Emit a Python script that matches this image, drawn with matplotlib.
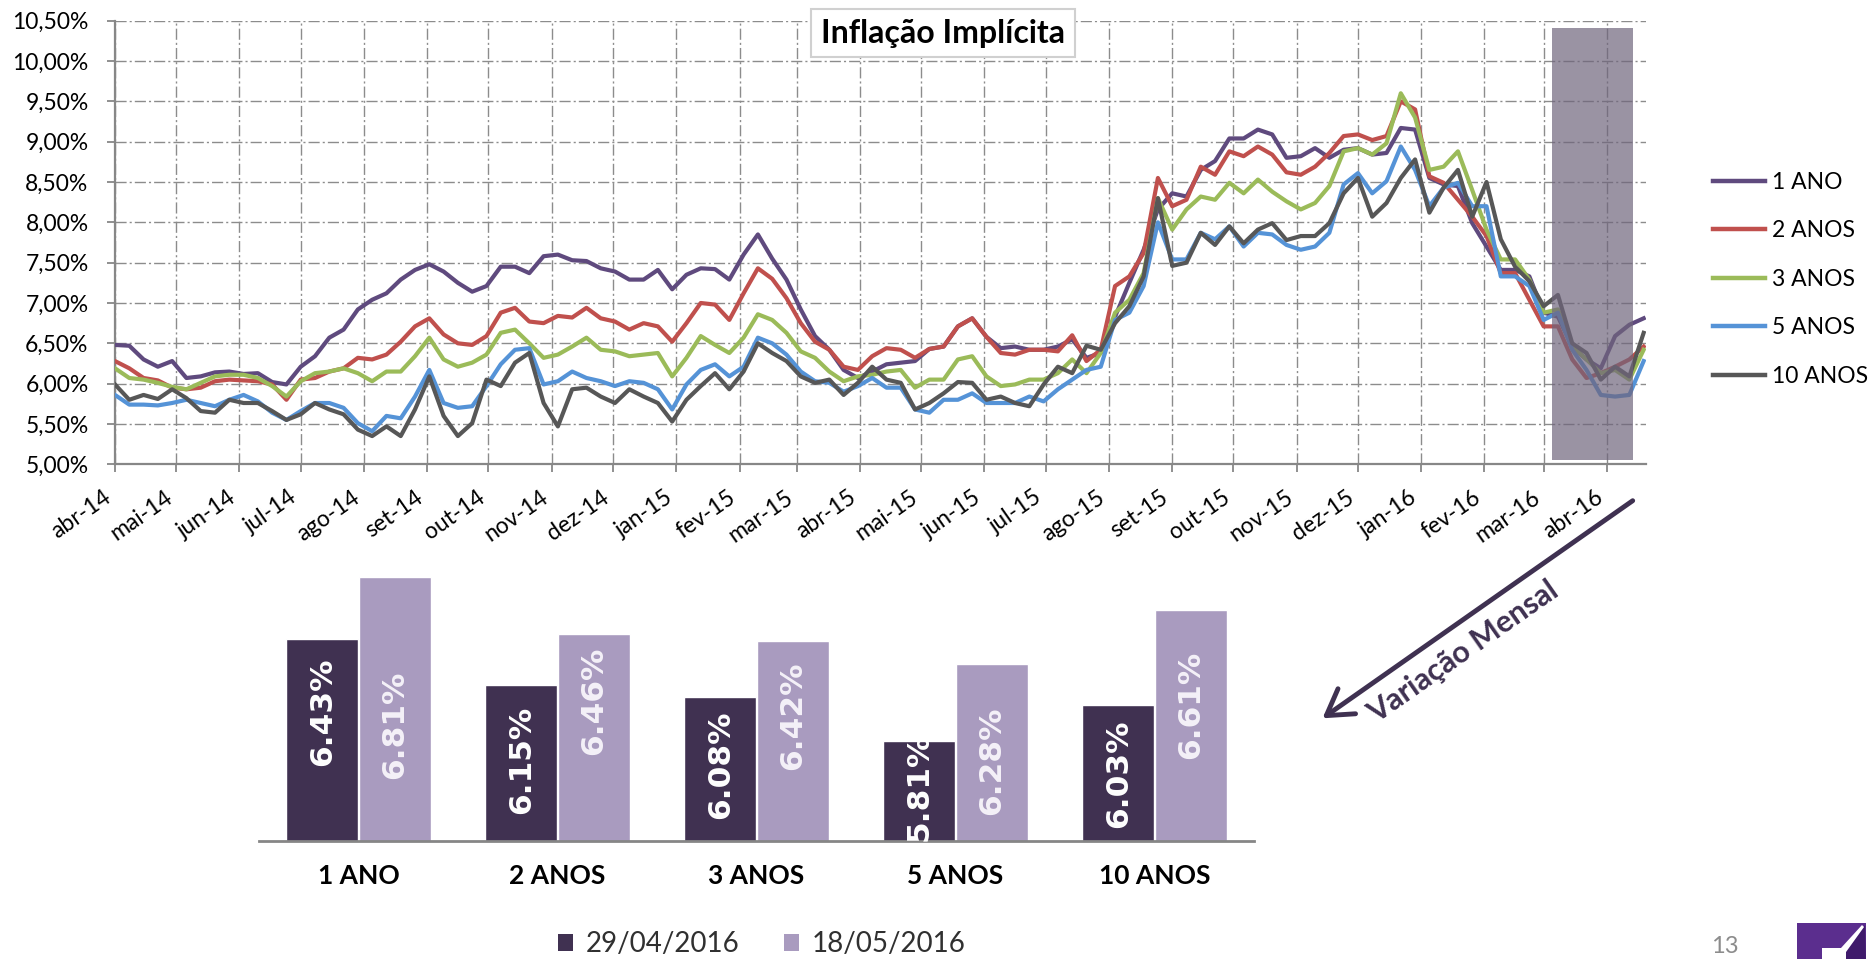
"""
Inflação Implícita - curvas por prazo e comparação mensal em barras
"""
import numpy as np
import pandas as pd
import matplotlib
matplotlib.use('Agg')
import matplotlib.pyplot as plt
import matplotlib.dates as mdates
from matplotlib.patches import Rectangle, Patch, Polygon, FancyArrowPatch
from matplotlib.lines import Line2D

plt.rcParams['font.family'] = ['Lato', 'DejaVu Sans']

# ---- dados das curvas (amostra semanal a partir de abr-14) ----
datas = pd.date_range('2014-04-01', periods=108, freq='7D')

ano_1 = [6.48, 6.47, 6.30, 6.21, 6.28, 6.07, 6.09, 6.14, 6.15, 6.12, 6.13, 6.02, 5.99, 6.21,
         6.34, 6.57, 6.67, 6.92, 7.04, 7.12, 7.29, 7.41, 7.48, 7.39, 7.25, 7.14, 7.21, 7.45,
         7.45, 7.37, 7.58, 7.60, 7.53, 7.52, 7.43, 7.39, 7.29, 7.29, 7.41, 7.17, 7.35, 7.43,
         7.42, 7.29, 7.60, 7.85, 7.55, 7.29, 6.92, 6.59, 6.42, 6.17, 6.07, 6.15, 6.24,
         6.26, 6.28, 6.43, 6.46, 6.71, 6.81, 6.58, 6.44, 6.46, 6.42, 6.42, 6.46, 6.55, 6.32,
         6.38, 6.83, 7.25, 7.66, 8.16, 8.36, 8.32, 8.65, 8.76, 9.04, 9.04, 9.15, 9.09, 8.80,
         8.82, 8.92, 8.80, 8.90, 8.92, 8.84, 8.86, 9.17, 9.15, 8.55, 8.47, 8.45, 7.99, 7.70,
         7.41, 7.41, 7.33, 6.88, 6.83, 6.46, 6.30, 6.19, 6.59, 6.73, 6.81]
anos_2 = [6.28, 6.19, 6.07, 6.04, 5.95, 5.93, 5.95, 6.03, 6.05, 6.04, 6.03, 5.99, 5.80, 6.05,
          6.07, 6.15, 6.19, 6.32, 6.30, 6.36, 6.52, 6.71, 6.81, 6.61, 6.50, 6.48, 6.59, 6.88,
          6.94, 6.77, 6.75, 6.84, 6.82, 6.94, 6.81, 6.77, 6.67, 6.75, 6.71, 6.52, 6.75, 7.00,
          6.98, 6.79, 7.12, 7.43, 7.30, 7.06, 6.75, 6.52, 6.42, 6.21, 6.17, 6.34, 6.44,
          6.42, 6.32, 6.43, 6.46, 6.71, 6.81, 6.58, 6.38, 6.36, 6.42, 6.42, 6.40, 6.60, 6.28,
          6.42, 7.21, 7.33, 7.62, 8.55, 8.20, 8.28, 8.69, 8.59, 8.88, 8.82, 8.94, 8.84, 8.62,
          8.59, 8.69, 8.86, 9.07, 9.09, 9.02, 9.07, 9.50, 9.40, 8.57, 8.49, 8.28, 8.07, 7.83,
          7.37, 7.37, 7.04, 6.71, 6.71, 6.30, 6.07, 6.13, 6.21, 6.30, 6.46]
anos_3 = [6.19, 6.07, 6.05, 6.01, 5.96, 5.93, 6.01, 6.09, 6.11, 6.11, 6.07, 5.97, 5.84, 6.03,
          6.13, 6.15, 6.19, 6.13, 6.03, 6.15, 6.15, 6.34, 6.57, 6.30, 6.21, 6.26, 6.36, 6.63,
          6.67, 6.50, 6.32, 6.36, 6.46, 6.57, 6.42, 6.40, 6.34, 6.36, 6.38, 6.09, 6.32, 6.59,
          6.48, 6.38, 6.57, 6.86, 6.79, 6.63, 6.40, 6.32, 6.15, 6.03, 6.09, 6.11, 6.15,
          6.17, 5.95, 6.05, 6.05, 6.30, 6.34, 6.09, 5.97, 5.99, 6.05, 6.05, 6.13, 6.30, 6.13,
          6.38, 6.88, 7.04, 7.37, 8.30, 7.91, 8.16, 8.32, 8.28, 8.49, 8.36, 8.53, 8.38, 8.26,
          8.16, 8.24, 8.45, 8.88, 8.92, 8.84, 8.98, 9.60, 9.30, 8.65, 8.69, 8.88, 8.40, 7.91,
          7.54, 7.54, 7.29, 6.88, 6.92, 6.46, 6.30, 6.13, 6.17, 6.05, 6.42]
anos_5 = [5.86, 5.74, 5.74, 5.73, 5.76, 5.80, 5.76, 5.72, 5.80, 5.86, 5.78, 5.64, 5.55, 5.66,
          5.76, 5.76, 5.70, 5.51, 5.41, 5.60, 5.57, 5.84, 6.17, 5.76, 5.70, 5.72, 5.97, 6.24,
          6.42, 6.44, 5.99, 6.03, 6.15, 6.07, 6.03, 5.97, 6.03, 6.01, 5.93, 5.68, 5.99, 6.17,
          6.24, 6.09, 6.21, 6.57, 6.50, 6.36, 6.15, 6.03, 6.01, 5.90, 5.97, 6.07, 5.95,
          5.95, 5.68, 5.64, 5.80, 5.80, 5.88, 5.76, 5.76, 5.76, 5.84, 5.78, 5.93, 6.05, 6.17,
          6.21, 6.79, 6.88, 7.21, 8.00, 7.54, 7.54, 7.87, 7.79, 7.95, 7.70, 7.87, 7.85, 7.72,
          7.66, 7.70, 7.87, 8.47, 8.61, 8.36, 8.51, 8.94, 8.65, 8.20, 8.43, 8.49, 8.20, 8.20,
          7.33, 7.33, 7.21, 6.79, 6.88, 6.42, 6.17, 5.86, 5.84, 5.86, 6.28]
anos_10 = [5.99, 5.80, 5.86, 5.81, 5.93, 5.82, 5.66, 5.64, 5.80, 5.76, 5.76, 5.66, 5.55, 5.62,
           5.76, 5.68, 5.62, 5.43, 5.35, 5.47, 5.35, 5.68, 6.09, 5.60, 5.35, 5.51, 6.05, 5.97,
           6.26, 6.38, 5.76, 5.47, 5.93, 5.95, 5.84, 5.76, 5.93, 5.84, 5.76, 5.53, 5.80, 5.97,
           6.13, 5.93, 6.15, 6.50, 6.38, 6.28, 6.09, 6.01, 6.05, 5.86, 6.01, 6.21, 6.05,
           6.01, 5.68, 5.76, 5.88, 6.02, 6.01, 5.80, 5.84, 5.76, 5.72, 5.99, 6.21, 6.13, 6.47,
           6.42, 6.75, 6.96, 7.33, 8.30, 7.46, 7.50, 7.87, 7.72, 7.95, 7.74, 7.91, 7.99, 7.78,
           7.83, 7.83, 7.99, 8.36, 8.55, 8.07, 8.24, 8.55, 8.78, 8.12, 8.43, 8.65, 8.07, 8.50,
           7.79, 7.45, 7.27, 6.96, 7.10, 6.50, 6.38, 6.05, 6.21, 6.09, 6.63]

nomes_series = ['1 ANO', '2 ANOS', '3 ANOS', '5 ANOS', '10 ANOS']
cores_series = ['#5f4a7e', '#c0504d', '#9bbb59', '#5593d7', '#575757']
meses_pt = ['jan', 'fev', 'mar', 'abr', 'mai', 'jun', 'jul', 'ago', 'set', 'out', 'nov', 'dez']

# ---- dados das barras ----
prazos = ['1 ANO', '2 ANOS', '3 ANOS', '5 ANOS', '10 ANOS']
taxa_290416 = [6.43, 6.15, 6.08, 5.81, 6.03]
taxa_180516 = [6.81, 6.46, 6.42, 6.28, 6.61]
datas_barras = ['29/04/2016', '18/05/2016']

# posição vertical dos rótulos dentro das barras (ajuste de layout)
rot_y_escuro = [5.99, 5.70, 5.67, 5.535, 5.61]
rot_y_claro = [5.91, 6.055, 5.965, 5.69, 6.03]

W, H = 1870, 959
fig = plt.figure(figsize=(W / 100, H / 100), dpi=100)


def fx(px):
    return px / W


def fy(py):
    return 1 - py / H


# ================= gráfico de linhas =================
ax = fig.add_axes([fx(115), fy(464.3), fx(1645.7) - fx(115), fy(20.7) - fy(464.3)])
for serie, nome, cor in zip([ano_1, anos_2, anos_3, anos_5, anos_10], nomes_series, cores_series):
    ax.plot(datas, serie, color=cor, lw=3.0, label=nome, solid_joinstyle='round', zorder=3)

ax.set_ylim(5.0, 10.5)
yt = np.arange(5.0, 10.51, 0.5)
ax.set_yticks(yt)
ax.set_yticklabels([f'{v:.2f}%'.replace('.', ',') for v in yt])

ax.set_xlim(pd.Timestamp('2014-04-01'), pd.Timestamp('2016-04-20'))
meses = pd.date_range('2014-04-01', '2016-04-01', freq='MS')
ax.set_xticks(meses)
ax.set_xticklabels([f"{meses_pt[d.month - 1]}-{d.strftime('%y')}" for d in meses],
                   rotation=35, ha='right', va='top')

ax.set_axisbelow(True)
ax.grid(True, color='#8c8c8c', lw=1.0, linestyle=(0, (8, 2.2, 1.5, 2.2)))
for s in ['top', 'right']:
    ax.spines[s].set_visible(False)
for s in ['left', 'bottom']:
    ax.spines[s].set_color('#878787')
    ax.spines[s].set_linewidth(1.6)
ax.tick_params(axis='both', colors='#878787', length=6, width=1.3,
               labelcolor='black', labelsize=16.5)
ax.tick_params(axis='y', pad=13)
ax.tick_params(axis='x', pad=10)

# faixa destacada (último mês)
x0 = mdates.date2num(pd.Timestamp('2016-03-05'))
x1 = mdates.date2num(pd.Timestamp('2016-04-14'))
ax.add_patch(Rectangle((x0, 5.05), x1 - x0, 10.41 - 5.05, fc='#6f657c', ec='none',
                       alpha=0.7, zorder=5))

handles = [Line2D([], [], color=c, lw=3.2) for c in cores_series]
ax.legend(handles, nomes_series, loc='center left', bbox_to_anchor=(1.0438, 0.417),
          frameon=False, fontsize=16.5, handlelength=2.3, handletextpad=0.3,
          labelspacing=1.2, borderpad=0, borderaxespad=0)

fig.text(fx(943), fy(33.3), 'Inflação Implícita', ha='center', va='center',
         fontsize=23, fontweight='bold', zorder=10,
         bbox=dict(boxstyle='square,pad=0.3', fc='white', ec='#d0d0d0', lw=1.5))

# ================= gráfico de barras =================
ax2 = fig.add_axes([fx(258.9), fy(840.7), fx(1253.9) - fx(258.9), fy(560) - fy(840.7)])
x = np.arange(len(prazos))
w = 0.36
cor_escura, cor_clara = '#403151', '#a99bbf'
ax2.bar(x - w / 2 - 0.004, taxa_290416, w, color=cor_escura, edgecolor='white', lw=1)
ax2.bar(x + w / 2 + 0.004, taxa_180516, w, color=cor_clara, edgecolor='white', lw=1)
ax2.set_ylim(5.206, 6.912)
ax2.set_xlim(-0.5, 4.5)

for i in range(len(prazos)):
    ax2.text(x[i] - w / 2, rot_y_escuro[i], f'{taxa_290416[i]:.2f}%', rotation=90,
             ha='center', va='center', color='white', fontsize=22.5, fontweight='bold',
             family='DejaVu Sans')
    ax2.text(x[i] + w / 2, rot_y_claro[i], f'{taxa_180516[i]:.2f}%', rotation=90,
             ha='center', va='center', color='#f4f1f8', fontsize=22.5, fontweight='bold',
             family='DejaVu Sans')

ax2.set_xticks(x)
ax2.set_xticklabels(prazos, fontsize=19, fontweight='bold')
ax2.tick_params(axis='x', length=0, pad=17)
ax2.set_yticks([])
for s in ['top', 'right', 'left']:
    ax2.spines[s].set_visible(False)
ax2.spines['bottom'].set_color('#868686')
ax2.spines['bottom'].set_linewidth(2)

fig.legend([Patch(fc=cor_escura), Patch(fc=cor_clara)], datas_barras, loc='center',
           bbox_to_anchor=(fx(762), fy(944)), ncol=2, frameon=False, fontsize=20,
           handlelength=0.55, handleheight=0.55, handletextpad=0.45, columnspacing=1.6,
           borderpad=0, labelcolor='#303030')

# seta "Variação Mensal"
seta = FancyArrowPatch((fx(1632.7), fy(500.7)), (fx(1322.5), fy(718.3)),
                       transform=fig.transFigure, arrowstyle='->,head_length=0.9,head_width=0.55',
                       mutation_scale=20, lw=3.5, color='#3f3151', shrinkA=0, shrinkB=0)
fig.add_artist(seta)
fig.text(fx(1463.6), fy(651.7), 'Variação Mensal', rotation=35, rotation_mode='anchor',
         ha='center', va='center', fontsize=22, fontweight='bold', color='#3f3151')

# número da página e logo
fig.text(fx(1711), fy(957), '13', ha='left', va='bottom', fontsize=17, color='#8c8c8c')
fig.add_artist(Rectangle((fx(1797), fy(962)), fx(1866) - fx(1797), fy(923) - fy(962),
                         transform=fig.transFigure, fc='#5b2e8e', ec='none'))
fig.add_artist(Polygon([(fx(1865), fy(925)), (fx(1866), fy(962)), (fx(1846), fy(962)),
                        (fx(1846), fy(952))], closed=True, transform=fig.transFigure,
                       fc='#3f1a6b', ec='none'))
fig.add_artist(Polygon([(fx(1822), fy(948)), (fx(1841), fy(948)), (fx(1862), fy(925)),
                        (fx(1864), fy(927)), (fx(1846), fy(952)), (fx(1846), fy(962)),
                        (fx(1822), fy(962))], closed=True, transform=fig.transFigure,
                       fc='white', ec='none'))

fig.savefig('out.png', dpi=100)
